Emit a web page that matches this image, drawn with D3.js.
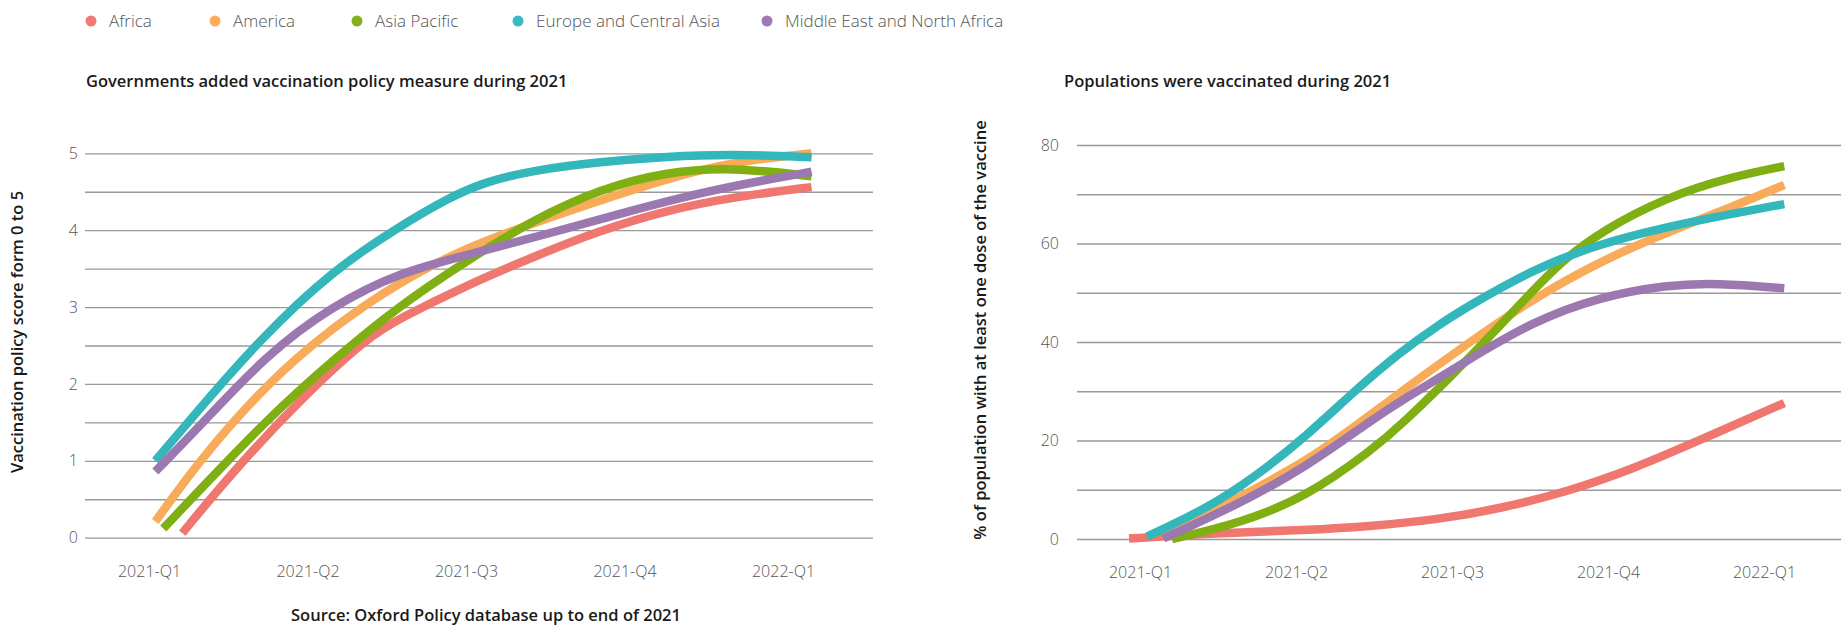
<!DOCTYPE html>
<html>
<head>
<meta charset="utf-8">
<script src="https://cdn.jsdelivr.net/npm/d3@7"></script>
<style>
  body { margin: 0; background: #fff; }
  svg { display: block; font-family: "Open Sans", sans-serif; }
</style>
</head>
<body>
<div id="chart"></div>
<script>
// Chart data
const quarters = ["2021-Q1", "2021-Q2", "2021-Q3", "2021-Q4", "2022-Q1"];
const regions = ["Africa", "America", "Asia Pacific", "Europe and Central Asia", "Middle East and North Africa"];
const colors = ["#EF7770", "#F8AC5A", "#7FAF12", "#33B7BB", "#9C78B1"];
const legendColors = ["#F07A73", "#FDAD5A", "#86B11D", "#3BBAC4", "#9E7AB6"];

// policy score, points are [quarter position, score]
const policyAfrica = [[0.21, 0.06], [0.53, 0.86], [0.95, 1.79], [1.38, 2.61], [1.58, 2.85], [2.01, 3.29], [2.42, 3.65], [2.85, 4.0], [3.27, 4.26], [3.68, 4.43], [4.18, 4.56]];
const policyAmerica = [[0.04, 0.21], [0.32, 1.01], [0.74, 2.0], [1.16, 2.74], [1.58, 3.33], [2.01, 3.78], [2.42, 4.09], [2.85, 4.39], [3.27, 4.67], [3.68, 4.89], [4.18, 5.0]];
const policyAsia = [[0.09, 0.12], [0.32, 0.62], [0.74, 1.53], [1.16, 2.31], [1.58, 3.02], [2.01, 3.61], [2.42, 4.13], [2.85, 4.54], [3.27, 4.76], [3.68, 4.82], [4.18, 4.70]];
const policyEurope = [[0.04, 1.0], [0.32, 1.68], [0.70, 2.58], [1.16, 3.48], [1.58, 4.05], [1.90, 4.43], [2.11, 4.62], [2.42, 4.78], [2.85, 4.89], [3.27, 4.96], [3.68, 4.99], [4.18, 4.95]];
const policyMENA = [[0.04, 0.86], [0.32, 1.45], [0.74, 2.38], [1.16, 3.02], [1.58, 3.45], [2.01, 3.68], [2.53, 3.96], [3.05, 4.26], [3.58, 4.54], [4.18, 4.76]];

// share vaccinated (%), points are [quarter position, percent]
const vaccAfrica = [[-0.07, 0.1], [0.43, 1.1], [1.07, 1.8], [1.49, 2.6], [1.92, 4.0], [2.31, 6.2], [2.74, 9.6], [3.16, 14.2], [3.59, 20.1], [4.13, 27.6]];
const vaccAmerica = [[0.15, 0.5], [0.64, 8.6], [1.07, 15.7], [1.49, 25.5], [1.67, 29.8], [2.10, 39.7], [2.52, 48.8], [2.95, 56.4], [3.38, 62.3], [3.80, 67.5], [4.13, 71.9]];
const vaccAsia = [[0.205, 0], [0.64, 3.2], [1.07, 8.6], [1.49, 18.2], [1.67, 23.0], [2.10, 36.3], [2.52, 50.5], [2.69, 56.0], [2.95, 62.4], [3.38, 69.5], [3.80, 73.6], [4.13, 75.7]];
const vaccEurope = [[0.045, 0.5], [0.43, 6.2], [0.75, 12.9], [1.07, 21.0], [1.39, 30.5], [1.67, 38.0], [1.92, 43.6], [2.10, 47.2], [2.52, 54.8], [2.95, 60.0], [3.38, 63.4], [3.80, 66.1], [4.13, 68]];
const vaccMENA = [[0.15, 0.1], [0.64, 7.2], [1.07, 14.7], [1.49, 24.3], [1.67, 28.0], [2.10, 36.3], [2.52, 44.2], [2.95, 49.2], [3.38, 51.6], [3.70, 52.0], [4.13, 50.9]];

const policySeries = [policyAfrica, policyAmerica, policyAsia, policyEurope, policyMENA];
const vaccSeries = [vaccAfrica, vaccAmerica, vaccAsia, vaccEurope, vaccMENA];

const width = 1841, height = 625;

let svg = d3.select("#chart").append("svg")
	.attr("width", width)
	.attr("height", height);

// Legend
let legendX = [91, 215, 357, 518, 767];
let legend = svg.append("g");
regions.forEach(function(r, i) {
	legend.append("circle")
		.attr("cx", legendX[i])
		.attr("cy", 21)
		.attr("r", 5.5)
		.attr("fill", legendColors[i]);
	legend.append("text")
		.attr("x", legendX[i] + 18)
		.attr("y", 21)
		.attr("dy", "0.35em")
		.style("font-size", "17px")
		.style("font-weight", 300)
		.attr("fill", "#555")
		.text(r);
});

function drawChart(opts) {
	let g = svg.append("g");

	let x = d3.scaleLinear().domain([0, 4]).range(opts.xRange);
	let y = d3.scaleLinear().domain([0, opts.yMax]).range(opts.yRange);

	// gridlines
	let grid = g.append("g")
		.attr("transform", "translate(" + opts.gridLeft + ",0)")
		.call(d3.axisLeft(y).tickValues(d3.range(0, opts.yMax + 0.001, opts.gridStep))
			.tickSize(-(opts.gridRight - opts.gridLeft)).tickFormat(""));
	grid.select(".domain").remove();
	grid.selectAll("line").attr("stroke", "#999").attr("stroke-width", 1.3);

	// y tick labels
	let yAxis = g.append("g")
		.attr("transform", "translate(" + opts.gridLeft + ",0)")
		.call(d3.axisLeft(y).tickValues(d3.range(0, opts.yMax + 0.001, opts.labelStep))
			.tickSize(0).tickPadding(opts.labelPad).tickFormat(d3.format("d")));
	yAxis.select(".domain").remove();
	yAxis.selectAll("text")
		.style("font-family", "Open Sans")
		.style("font-size", "16px")
		.style("font-weight", 300)
		.attr("fill", "#555");

	// x tick labels
	let xAxis = g.append("g")
		.attr("transform", "translate(0," + (opts.yRange[0] + 25) + ")")
		.call(d3.axisBottom(x).tickValues([0, 1, 2, 3, 4]).tickSize(0)
			.tickFormat(function(d) {return quarters[d]}));
	xAxis.select(".domain").remove();
	xAxis.selectAll("text")
		.style("font-family", "Open Sans")
		.style("font-size", "16px")
		.style("font-weight", 300)
		.attr("fill", "#555");

	// lines
	let line = d3.line()
		.x(function(d) {return x(d[0])})
		.y(function(d) {return y(d[1])})
		.curve(d3.curveBasis);

	g.selectAll(".series")
		.data(opts.series)
		.enter()
		.append("path")
		.attr("class", "series")
		.attr("d", line)
		.attr("fill", "none")
		.attr("stroke", function(d, i) {return colors[i]})
		.attr("stroke-width", 8.5)
		.attr("stroke-linecap", "butt");

	// chart title
	g.append("text")
		.attr("x", opts.titleX)
		.attr("y", 81)
		.attr("dy", "0.35em")
		.style("font-size", "16.5px")
		.style("font-weight", 600)
		.attr("fill", "#1a1a1a")
		.text(opts.title);

	// y axis title
	g.append("text")
		.attr("transform", "translate(" + opts.yTitleX + "," + opts.yTitleY + ")rotate(-90)")
		.attr("dy", "0.35em")
		.style("text-anchor", "middle")
		.style("font-size", "16.5px")
		.style("font-weight", 600)
		.attr("fill", "#1a1a1a")
		.text(opts.yTitle);
}

drawChart({
	series: policySeries,
	xRange: [149, 783],
	yRange: [537.7, 153.3],
	yMax: 5,
	gridStep: 0.5,
	labelStep: 1,
	gridLeft: 85,
	gridRight: 873,
	labelPad: 7,
	title: "Governments added vaccination policy measure during 2021",
	titleX: 86,
	yTitle: "Vaccination policy score form 0 to 5",
	yTitleX: 17,
	yTitleY: 332
});

drawChart({
	series: vaccSeries,
	xRange: [1140, 1764],
	yRange: [539, 145],
	yMax: 80,
	gridStep: 10,
	labelStep: 20,
	gridLeft: 1077,
	gridRight: 1841,
	labelPad: 18,
	title: "Populations were vaccinated during 2021",
	titleX: 1064,
	yTitle: "% of population with at least one dose of the vaccine",
	yTitleX: 980,
	yTitleY: 330
});

// Source note
svg.append("text")
	.attr("x", 486)
	.attr("y", 615)
	.attr("dy", "0.35em")
	.style("text-anchor", "middle")
	.style("font-size", "16.5px")
	.style("font-weight", 600)
	.attr("fill", "#1a1a1a")
	.text("Source: Oxford Policy database up to end of 2021");
</script>
</body>
</html>
